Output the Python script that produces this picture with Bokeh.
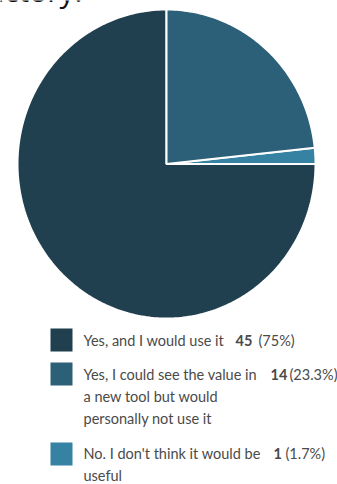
import math
from bokeh.plotting import figure
from bokeh.models import Range1d, ColumnDataSource
from bokeh.core.properties import value
from bokeh.embed import file_html
from bokeh.resources import INLINE

labels = [["Yes, and I would use it"],
          ["Yes, I could see the value in", "a new tool but would", "personally not use it"],
          ["No. I don't think it would be", "useful"]]
counts = [45, 14, 1]
pcts = ["(75%)", "(23.3%)", "(1.7%)"]
colors = ["#21404f", "#2c6078", "#3582a3"]
draw_order = [0, 2, 1]  # anticlockwise from 12 o'clock

W, H = 337, 484
p = figure(width=W, height=H, output_backend="svg", toolbar_location=None,
           x_range=Range1d(0, W), y_range=Range1d(0, H), min_border=0)
p.axis.visible = False
p.grid.visible = False
p.outline_line_color = None
p.background_fill_color = "white"

# clipped heading text at top (only its lower part is visible)
p.text(x=[82], y=[H - 10], text=["satisfactory."], text_font=value("Open Sans"),
       text_font_size="30px", text_color="#111111", text_align="right",
       text_baseline="bottom")

# pie (slightly elliptical like the reference)
total = sum(counts)
cx, cy, rx, ry = 166, H - 163.5, 149, 154.5
ang = math.pi / 2
xs, ys, cols = [], [], []
for i in draw_order:
    a = counts[i] / total * 2 * math.pi
    n = max(4, int(a / (2 * math.pi) * 360))
    px, py = [cx], [cy]
    for k in range(n + 1):
        t = ang + a * k / n
        px.append(cx + rx * math.cos(t))
        py.append(cy + ry * math.sin(t))
    xs.append(px)
    ys.append(py)
    cols.append(colors[i])
    ang += a
src = ColumnDataSource(dict(xs=xs, ys=ys, c=cols))
p.patches(xs="xs", ys="ys", fill_color="c", line_color="white", line_width=2, source=src)

# legend
item_tops = [328, 362, 442]
text_off = [12, 12, 11]
count_x = [235, 270, 273]
pct_x = [258, 289, 285]
line_h = 22
fs = "14.5px"
tc = "#4a4a4a"
for i, lab in enumerate(labels):
    t = item_tops[i]
    o = text_off[i]
    p.rect(x=[61], y=[H - (t + 11.5)], width=22, height=23, fill_color=colors[i], line_color=None)
    for j, ln in enumerate(lab):
        p.text(x=[83], y=[H - (t + o + j * line_h)], text=[ln], text_font=value("Lato"),
               text_font_size=fs, text_color=tc, text_baseline="middle")
    p.text(x=[count_x[i]], y=[H - (t + o)], text=[str(counts[i])], text_font=value("Lato"),
           text_font_size=fs, text_color=tc, text_baseline="middle", text_font_style="bold")
    p.text(x=[pct_x[i]], y=[H - (t + o)], text=[pcts[i]], text_font=value("Lato"),
           text_font_size=fs, text_color=tc, text_baseline="middle")

open("out.html", "w").write(file_html(p, INLINE))
